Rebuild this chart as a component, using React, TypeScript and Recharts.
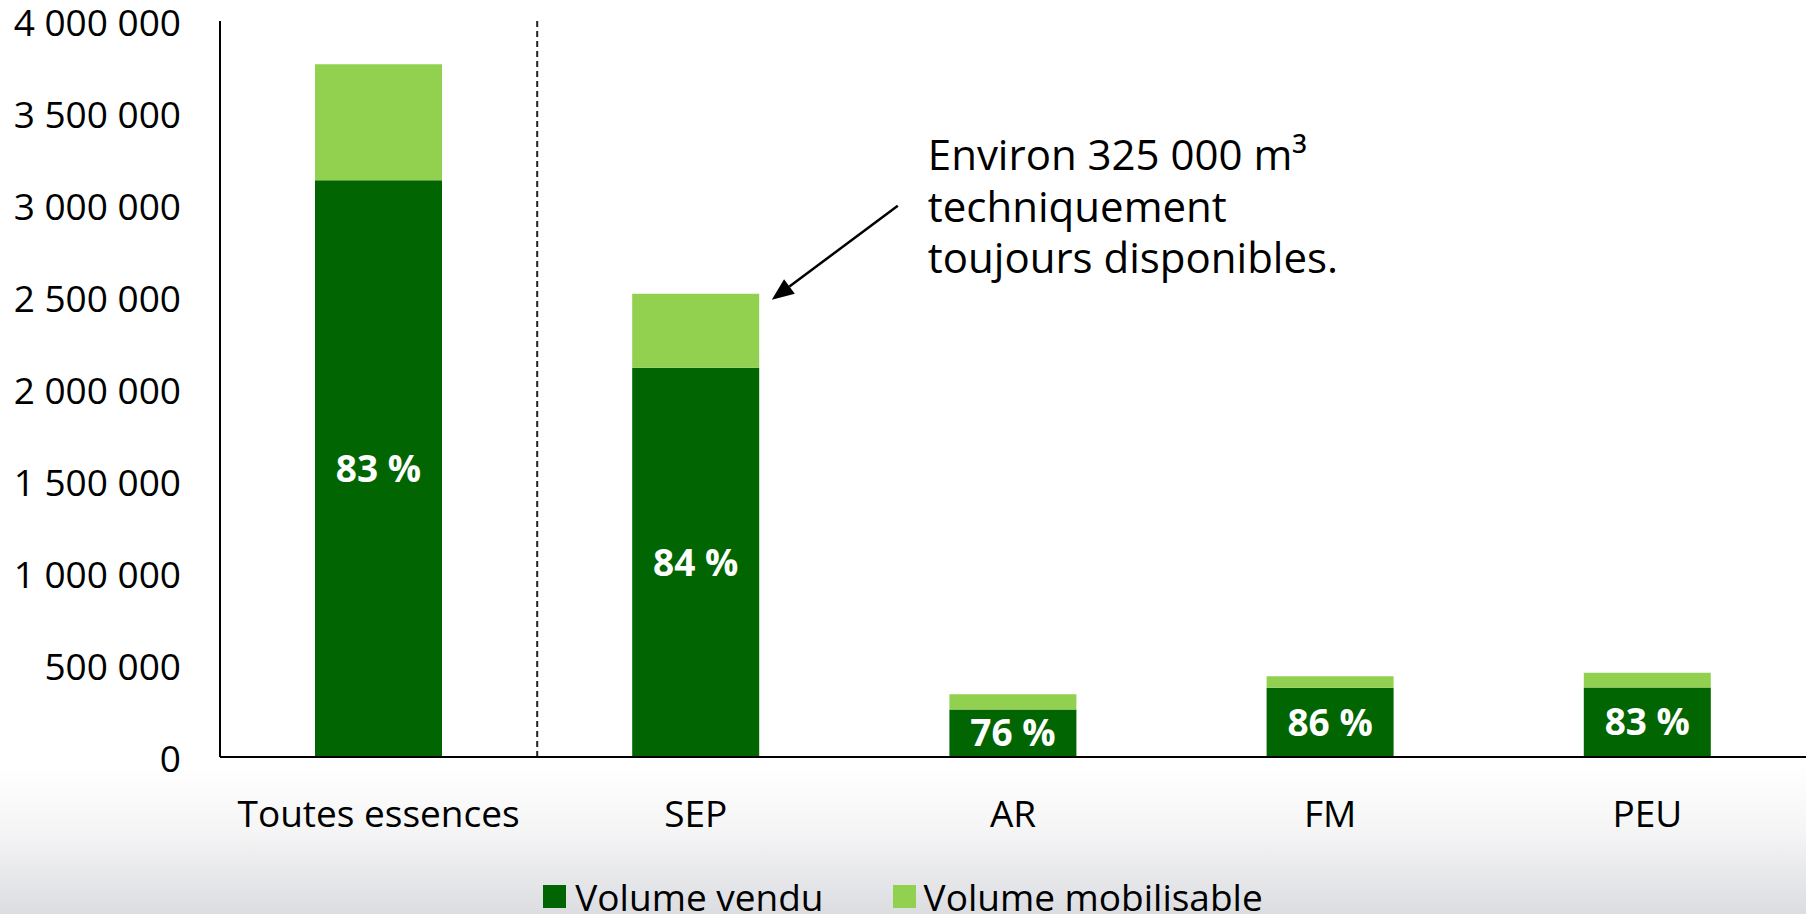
import React from 'react';
import { BarChart, Bar, XAxis, YAxis, ReferenceLine, ReferenceDot, LabelList } from 'recharts';

const categories = ['Toutes essences', 'SEP', 'AR', 'FM', 'PEU'];
const volumeVendu = [3135000, 2115000, 258000, 376000, 378000];
const volumeMobilisable = [630000, 403000, 83000, 63000, 80000];
const pctVendu = [83, 84, 76, 86, 83];
const yTicks = [0, 500000, 1000000, 1500000, 2000000, 2500000, 3000000, 3500000, 4000000];
const annotationLines = ['Environ 325 000 m³', 'techniquement', 'toujours disponibles.'];
const seriesNames = ['Volume vendu', 'Volume mobilisable'];

const data = categories.map((c, i) => ({
  name: c,
  vendu: volumeVendu[i],
  mobilisable: volumeMobilisable[i],
  total: volumeVendu[i] + volumeMobilisable[i],
  pct: pctVendu[i],
}));

const FONT = "'Open Sans', 'Noto Sans', sans-serif";
const DARK = '#016501';
const LIGHT = '#92d050';

const fmt = (n: number) => String(n).replace(/\B(?=(\d{3})+(?!\d))/g, ' ');

const YTick = (props: any) => {
  const { x, y, payload } = props;
  return (
    <text x={x} y={y} textAnchor="end" dominantBaseline="central" fontSize={37} fontFamily={FONT} fill="#000">
      {fmt(payload.value)}
    </text>
  );
};

const XTick = (props: any) => {
  const { x, y, payload } = props;
  return (
    <text x={x} y={y + 55} textAnchor="middle" dominantBaseline="central" fontSize={37} fontFamily={FONT} fill="#000">
      {payload.value}
    </text>
  );
};

const Annotation = (props: any) => {
  const { cx, cy } = props;
  const tipX = cx + 76;
  const tipY = cy + 6;
  const startX = cx + 202;
  const startY = cy - 88;
  const ang = Math.atan2(tipY - startY, tipX - startX);
  const len = 22;
  const half = 9;
  const bx = tipX - len * Math.cos(ang);
  const by = tipY - len * Math.sin(ang);
  const px = -Math.sin(ang) * half;
  const py = Math.cos(ang) * half;
  const offs = [-140, -88, -37];
  return (
    <g>
      <line x1={startX} y1={startY} x2={bx} y2={by} stroke="#000" strokeWidth={2.5} />
      <polygon points={`${tipX},${tipY} ${bx + px},${by + py} ${bx - px},${by - py}`} fill="#000" />
      {annotationLines.map((t, i) => (
        <text key={i} x={cx + 232} y={cy + offs[i]} dominantBaseline="central" fontSize={42} fontFamily={FONT} fill="#000">
          {t}
        </text>
      ))}
    </g>
  );
};

export default function App() {
  return (
    <div
      style={{
        position: 'absolute',
        left: 0,
        top: 0,
        width: 1806,
        height: 914,
        background: 'linear-gradient(to bottom, #ffffff 0px, #ffffff 765px, #f5f5f6 830px, #dcdde1 914px)',
        overflow: 'hidden',
      }}
    >
      <BarChart
        width={1806}
        height={914}
        data={data}
        margin={{ top: 21, right: 0, left: 0, bottom: 0 }}
        style={{ fontFamily: FONT }}
      >
        <XAxis
          dataKey="name"
          height={157}
          tickLine={false}
          tickSize={0}
          tickMargin={0}
          axisLine={{ stroke: '#000', strokeWidth: 2 }}
          tick={<XTick />}
          interval={0}
        />
        <YAxis
          width={220}
          domain={[0, 4000000]}
          ticks={yTicks}
          tickLine={false}
          tickSize={0}
          tickMargin={39}
          axisLine={{ stroke: '#000', strokeWidth: 2 }}
          tick={<YTick />}
          interval={0}
        />
        <ReferenceLine
          x="Toutes essences"
          position="end"
          stroke="#222"
          strokeWidth={2}
          strokeDasharray="6 4"
        />
        <Bar dataKey="vendu" stackId="a" fill={DARK} barSize={127} isAnimationActive={false} name={seriesNames[0]}>
          <LabelList
            dataKey="pct"
            position="center"
            fill="#fff"
            fontSize={37}
            fontWeight={700}
            fontFamily={FONT}
            formatter={(v: any) => `${v} %`}
          />
        </Bar>
        <Bar dataKey="mobilisable" stackId="a" fill={LIGHT} barSize={127} isAnimationActive={false} name={seriesNames[1]} />
        <ReferenceDot
          x="SEP"
          y={data[1].total}
          r={0}
          ifOverflow="visible"
          shape={<Annotation />}
        />
      </BarChart>
      <div
        style={{
          position: 'absolute',
          left: 0,
          top: 871,
          width: 1806,
          height: 50,
          display: 'flex',
          justifyContent: 'center',
          alignItems: 'center',
          fontFamily: FONT,
          fontSize: 37,
          color: '#000',
        }}
      >
        <div style={{ width: 23, height: 23, background: DARK, marginRight: 9 }} />
        <span style={{ marginRight: 69 }}>{seriesNames[0]}</span>
        <div style={{ width: 23, height: 23, background: LIGHT, marginRight: 8 }} />
        <span>{seriesNames[1]}</span>
      </div>
    </div>
  );
}
